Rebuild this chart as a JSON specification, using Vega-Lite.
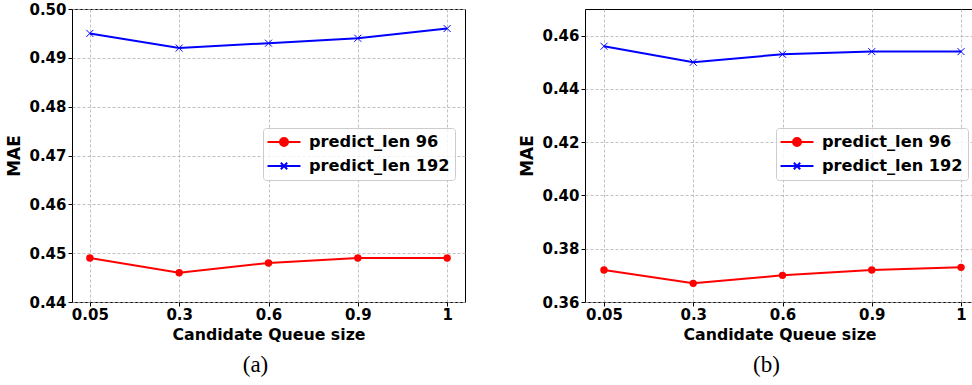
{
  "$schema": "https://vega.github.io/schema/vega-lite/v6.json",
  "padding": {"left": 5, "top": 1, "right": 0, "bottom": 0},
  "background": "white",
  "data": {"values": [
    {"panel": "a", "size": "0.05", "series": "predict_len 96", "mae": 0.449},
    {"panel": "a", "size": "0.3", "series": "predict_len 96", "mae": 0.446},
    {"panel": "a", "size": "0.6", "series": "predict_len 96", "mae": 0.448},
    {"panel": "a", "size": "0.9", "series": "predict_len 96", "mae": 0.449},
    {"panel": "a", "size": "1", "series": "predict_len 96", "mae": 0.449},
    {"panel": "a", "size": "0.05", "series": "predict_len 192", "mae": 0.495},
    {"panel": "a", "size": "0.3", "series": "predict_len 192", "mae": 0.492},
    {"panel": "a", "size": "0.6", "series": "predict_len 192", "mae": 0.493},
    {"panel": "a", "size": "0.9", "series": "predict_len 192", "mae": 0.494},
    {"panel": "a", "size": "1", "series": "predict_len 192", "mae": 0.496},
    {"panel": "b", "size": "0.05", "series": "predict_len 96", "mae": 0.372},
    {"panel": "b", "size": "0.3", "series": "predict_len 96", "mae": 0.367},
    {"panel": "b", "size": "0.6", "series": "predict_len 96", "mae": 0.370},
    {"panel": "b", "size": "0.9", "series": "predict_len 96", "mae": 0.372},
    {"panel": "b", "size": "1", "series": "predict_len 96", "mae": 0.373},
    {"panel": "b", "size": "0.05", "series": "predict_len 192", "mae": 0.456},
    {"panel": "b", "size": "0.3", "series": "predict_len 192", "mae": 0.450},
    {"panel": "b", "size": "0.6", "series": "predict_len 192", "mae": 0.453},
    {"panel": "b", "size": "0.9", "series": "predict_len 192", "mae": 0.454},
    {"panel": "b", "size": "1", "series": "predict_len 192", "mae": 0.454}
  ]},
  "spacing": 52,
  "resolve": {"scale": {"color": "independent", "shape": "independent"}, "legend": {"color": "independent"}},
  "hconcat": [
    {
      "width": 393,
      "height": 293,
      "transform": [{"filter": "datum.panel == 'a'"}],
      "title": {"text": "(a)", "orient": "bottom", "frame": "group", "anchor": "middle", "dx": -13, "offset": 12, "font": "Liberation Serif", "fontSize": 23, "fontWeight": "normal", "color": "black"},
      "encoding": {
        "x": {"field": "size", "type": "ordinal", "sort": ["0.05", "0.3", "0.6", "0.9", "1"], "scale": {"type": "point", "padding": 0.2}, "axis": {"title": "Candidate Queue size", "labelAngle": 0}},
        "y": {"field": "mae", "type": "quantitative", "scale": {"domain": [0.44, 0.5], "zero": false, "nice": false}, "axis": {"title": "MAE", "values": [0.44, 0.45, 0.46, 0.47, 0.48, 0.49, 0.5], "format": ".2f"}}
      },
      "layer": [
        {
          "mark": {"type": "line", "strokeWidth": 2},
          "encoding": {
            "color": {"field": "series", "type": "nominal", "sort": ["predict_len 96", "predict_len 192"], "scale": {"domain": ["predict_len 96", "predict_len 192"], "range": ["#ff0000", "#0000ff"]},
              "legend": {"title": null, "orient": "none", "legendX": 191, "legendY": 119, "symbolSize": 256, "symbolOffset": 7, "labelOffset": 16, "rowPadding": 6, "padding": 5,
                "fillColor": "rgba(255,255,255,0.8)", "strokeColor": "#cccccc", "cornerRadius": 3, "labelFont": "DejaVu Sans", "labelFontWeight": "bold", "labelFontSize": 16.2, "labelColor": "black",
                "encode": {"symbols": {"update": {
                  "shape": {"signal": "datum.value == 'predict_len 96' ? 'M-2.06,0H2.06M-0.5,0A0.5,0.5 0 1,1 0.5,0A0.5,0.5 0 1,1 -0.5,0' : 'M-2.06,0H2.06M-0.4,-0.4L0.4,0.4M-0.4,0.4L0.4,-0.4'"},
                  "fill": {"signal": "datum.value == 'predict_len 96' ? '#ff0000' : '#0000ff'"},
                  "stroke": {"signal": "datum.value == 'predict_len 96' ? '#ff0000' : '#0000ff'"},
                  "strokeWidth": {"value": 2},
                  "size": {"value": 256},
                  "opacity": {"value": 1}
                }}}}}
          }
        },
        {
          "transform": [{"filter": "datum.series == 'predict_len 96'"}],
          "mark": {"type": "point", "shape": "circle", "filled": true, "size": 55, "opacity": 1},
          "encoding": {"color": {"value": "#ff0000"}}
        },
        {
          "transform": [{"filter": "datum.series == 'predict_len 192'"}],
          "mark": {"type": "point", "shape": "M-1,-1L1,1M-1,1L1,-1", "filled": false, "size": 49, "strokeWidth": 1, "opacity": 1},
          "encoding": {"color": {"value": "#0000ff"}}
        }
      ]
    },
    {
      "width": 389,
      "height": 293,
      "transform": [{"filter": "datum.panel == 'b'"}],
      "title": {"text": "(b)", "orient": "bottom", "frame": "group", "anchor": "middle", "dx": -13, "offset": 12, "font": "Liberation Serif", "fontSize": 23, "fontWeight": "normal", "color": "black"},
      "encoding": {
        "x": {"field": "size", "type": "ordinal", "sort": ["0.05", "0.3", "0.6", "0.9", "1"], "scale": {"type": "point", "padding": 0.179, "align": 0.594}, "axis": {"title": "Candidate Queue size", "labelAngle": 0}},
        "y": {"field": "mae", "type": "quantitative", "scale": {"domain": [0.36, 0.47], "zero": false, "nice": false}, "axis": {"title": "MAE", "values": [0.36, 0.38, 0.4, 0.42, 0.44, 0.46], "format": ".2f"}}
      },
      "layer": [
        {
          "mark": {"type": "line", "strokeWidth": 2},
          "encoding": {
            "color": {"field": "series", "type": "nominal", "sort": ["predict_len 96", "predict_len 192"], "scale": {"domain": ["predict_len 96", "predict_len 192"], "range": ["#ff0000", "#0000ff"]},
              "legend": {"title": null, "orient": "none", "legendX": 191, "legendY": 119, "symbolSize": 256, "symbolOffset": 7, "labelOffset": 16, "rowPadding": 6, "padding": 5,
                "fillColor": "rgba(255,255,255,0.8)", "strokeColor": "#cccccc", "cornerRadius": 3, "labelFont": "DejaVu Sans", "labelFontWeight": "bold", "labelFontSize": 16.2, "labelColor": "black",
                "encode": {"symbols": {"update": {
                  "shape": {"signal": "datum.value == 'predict_len 96' ? 'M-2.06,0H2.06M-0.5,0A0.5,0.5 0 1,1 0.5,0A0.5,0.5 0 1,1 -0.5,0' : 'M-2.06,0H2.06M-0.4,-0.4L0.4,0.4M-0.4,0.4L0.4,-0.4'"},
                  "fill": {"signal": "datum.value == 'predict_len 96' ? '#ff0000' : '#0000ff'"},
                  "stroke": {"signal": "datum.value == 'predict_len 96' ? '#ff0000' : '#0000ff'"},
                  "strokeWidth": {"value": 2},
                  "size": {"value": 256},
                  "opacity": {"value": 1}
                }}}}}
          }
        },
        {
          "transform": [{"filter": "datum.series == 'predict_len 96'"}],
          "mark": {"type": "point", "shape": "circle", "filled": true, "size": 55, "opacity": 1},
          "encoding": {"color": {"value": "#ff0000"}}
        },
        {
          "transform": [{"filter": "datum.series == 'predict_len 192'"}],
          "mark": {"type": "point", "shape": "M-1,-1L1,1M-1,1L1,-1", "filled": false, "size": 49, "strokeWidth": 1, "opacity": 1},
          "encoding": {"color": {"value": "#0000ff"}}
        }
      ]
    }
  ],
  "config": {
    "view": {"stroke": "black", "strokeWidth": 1},
    "axis": {
      "labelFont": "DejaVu Sans", "labelFontWeight": "bold", "labelFontSize": 15, "labelColor": "black",
      "titleFont": "DejaVu Sans", "titleFontWeight": "bold", "titleFontSize": 15.75, "titleColor": "black",
      "grid": true, "gridColor": "#b0b0b0", "gridDash": [3, 2], "gridWidth": 0.8, "gridOpacity": 1,
      "domain": false, "tickColor": "black", "tickSize": 4, "labelPadding": 2
    },
    "axisY": {"titlePadding": 5, "titleFontSize": 17},
    "axisX": {"titlePadding": 5, "labelPadding": 1}
  }
}
